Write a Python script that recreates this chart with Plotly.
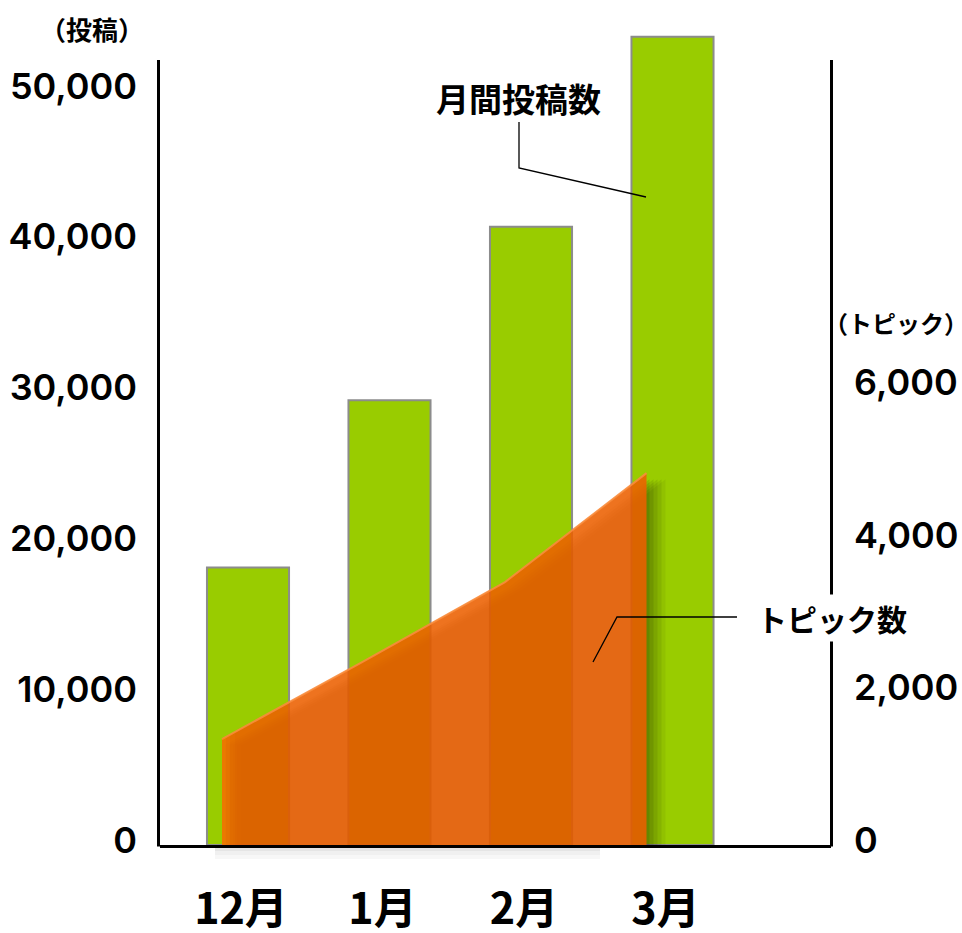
import numpy as np
import plotly.graph_objects as go

# ---- data ----
months = ["12月", "1月", "2月", "3月"]
posts = [18400, 29500, 41000, 53600]      # 月間投稿数 (left axis)
topics = [1390, 2410, 3450, 4880]         # トピック数 (right axis)
left_ticks = [0, 10000, 20000, 30000, 40000, 50000]
right_ticks = [0, 2000, 4000, 6000]

# ---- geometry helpers (pixels -> paper) ----
W, H = 962, 933
L, R, T, B = 160, 131, 35, 88
PW, PH = W - L - R, H - T - B
def px(x):
    return (x - L) / PW
def py(y):
    return (H - B - y) / PH

BAR_STEP = 141.5          # px per category on main x axis
XMIN = -(248 - L) / BAR_STEP
XMAX = XMIN + PW / BAR_STEP
AREA_OFFSET = -26 / BAR_STEP
Y1MAX = PH / 15.08 * 1000
Y2MAX = PH / 76.2 * 1000

idx = np.arange(len(months))
ax = idx + AREA_OFFSET
ty = np.array(topics, dtype=float)

JP = "Noto Sans CJK JP"
NUM = "Inter"

fig = go.Figure()

fig.add_trace(go.Bar(
    x=idx, y=posts, width=0.58, xaxis="x", yaxis="y",
    marker=dict(color="#99CC00", line=dict(color="#8C8C8C", width=2)),
    showlegend=False, hoverinfo="skip",
))

# soft drop shadow of the area (layers)
for dxp, a in [(3, 0.09), (7, 0.09), (11, 0.08), (15, 0.07), (19, 0.05)]:
    dx = dxp / BAR_STEP
    dy = 6 / PH * Y2MAX
    xs = [ax[0] + dx] + list(ax + dx) + [ax[-1] + dx]
    ys = [0] + list(ty - dy) + [0]
    fig.add_trace(go.Scatter(
        x=xs, y=ys, xaxis="x", yaxis="y2", mode="lines", fill="toself",
        fillcolor=f"rgba(0,0,0,{a})", line=dict(width=0),
        showlegend=False, hoverinfo="skip",
    ))

# orange area
fig.add_trace(go.Scatter(
    x=ax, y=topics, xaxis="x", yaxis="y2", mode="lines", fill="tozeroy",
    fillcolor="rgba(236,96,0,0.88)",
    line=dict(color="rgba(248,140,60,0.9)", width=2),
    showlegend=False, hoverinfo="skip",
))

# left-edge highlight
for wp, a in [(4, 0.18), (8, 0.12), (13, 0.08)]:
    w = wp / BAR_STEP
    xe = ax[0] + w
    ye = float(np.interp(xe, ax, ty))
    fig.add_trace(go.Scatter(
        x=[ax[0], ax[0], xe, xe], y=[0, ty[0], ye, 0], xaxis="x", yaxis="y2",
        mode="lines", fill="toself", fillcolor=f"rgba(255,150,0,{a})",
        line=dict(width=0), showlegend=False, hoverinfo="skip",
    ))

tickfont_num = dict(family=NUM, size=36, color="black", weight=600)

fig.update_layout(
    width=W, height=H,
    margin=dict(l=L, r=R, t=T, b=B, autoexpand=False),
    paper_bgcolor="white", plot_bgcolor="rgba(0,0,0,0)",
    xaxis=dict(range=[XMIN, XMAX], showline=True, linecolor="black", linewidth=3,
               tickmode="array", tickvals=list(idx), ticktext=months,
               tickfont=dict(family=JP, size=43, color="black", weight=700),
               ticklabelstandoff=24, ticklabelshift=-7, automargin=False,
               showgrid=False, zeroline=False, ticks=""),
    yaxis=dict(range=[0, Y1MAX], tickmode="array", tickvals=left_ticks,
               tickformat=",d", tickfont=tickfont_num, showline=False,
               showgrid=False, zeroline=False, automargin=False,
               ticks="", ticklabelstandoff=22, ticklabelshift=-5),
    yaxis2=dict(range=[0, Y2MAX], overlaying="y", side="right", tickmode="array",
                tickvals=right_ticks, tickformat=",d", tickfont=tickfont_num,
                showline=False, showgrid=False, automargin=False,
                zeroline=False, ticks="", ticklabelstandoff=22, ticklabelshift=-5),
    showlegend=False,
)

# vertical axis lines (start below the top of the tallest bar)
for xline in (158.5, 831.5):
    fig.add_shape(type="line", xref="paper", yref="paper",
                  x0=px(xline), x1=px(xline), y0=py(60), y1=py(846.5),
                  line=dict(color="black", width=3))

# faint shadow under the baseline
for y0, y1, a in [(847, 851, 0.10), (851, 855, 0.06), (855, 859, 0.03)]:
    fig.add_shape(type="rect", xref="paper", yref="paper",
                  x0=px(215), x1=px(600), y0=py(y1), y1=py(y0),
                  line=dict(width=0), fillcolor=f"rgba(0,0,0,{a})", layer="below")

fig.add_annotation(text="（投稿）", x=px(92), y=py(28), xref="paper", yref="paper",
                   showarrow=False, xanchor="center", yanchor="middle",
                   font=dict(family=JP, size=26, color="black", weight=700))
fig.add_annotation(text="（トピック）", x=px(896), y=py(322), xref="paper", yref="paper",
                   showarrow=False, xanchor="center", yanchor="middle",
                   font=dict(family=JP, size=24, color="black", weight=700))
fig.add_annotation(text="月間投稿数", x=px(518), y=py(98), xref="paper", yref="paper",
                   showarrow=False, xanchor="center", yanchor="middle",
                   font=dict(family=JP, size=33, color="black", weight=700))
fig.add_annotation(text="トピック数", x=px(832), y=py(618), xref="paper", yref="paper",
                   showarrow=False, xanchor="center", yanchor="middle", bgcolor="white",
                   font=dict(family=JP, size=30, color="black", weight=700))

def path(points):
    return "M " + " L ".join(f"{px(a):.5f},{py(b):.5f}" for a, b in points)

fig.add_shape(type="path", xref="paper", yref="paper",
              path=path([(519, 122), (519, 168), (646, 197)]),
              line=dict(color="black", width=1.3))
fig.add_shape(type="path", xref="paper", yref="paper",
              path=path([(737, 617), (617, 617), (593, 662)]),
              line=dict(color="black", width=1.3))

fig.write_html("out.html")
